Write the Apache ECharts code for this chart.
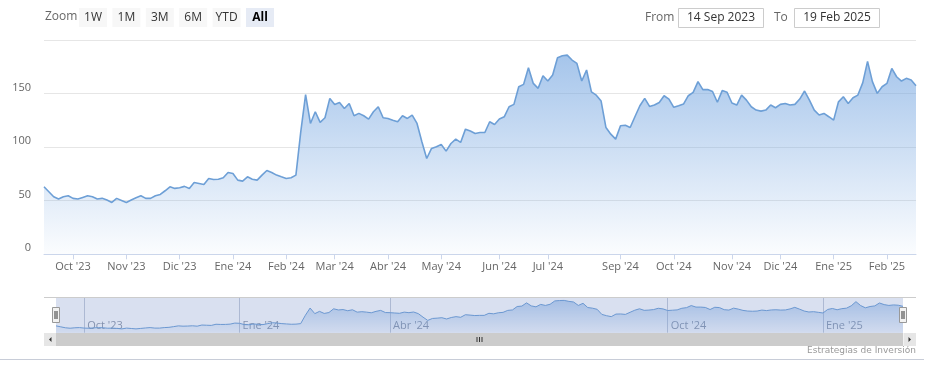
<!DOCTYPE html>
<html>
<head>
<meta charset="utf-8">
<script src="https://cdn.jsdelivr.net/npm/echarts@6/dist/echarts.min.js"></script>
<style>
  html, body { margin: 0; padding: 0; background: #fff; }
  #chart { width: 930px; height: 380px; }
</style>
</head>
<body>
<div id="chart"></div>
<script>
// Month tick labels (first block is the partial Sep '23, no label)
const monthLabels = ["", "Oct '23", "Nov '23", "Dic '23", "Ene '24", "Feb '24", "Mar '24", "Abr '24", "May '24", "Jun '24", "Jul '24", "Sep '24", "Oct '24", "Nov '24", "Dic '24", "Ene '25", "Feb '25"];
const navLabels = ["Oct '23", "Ene '24", "Abr '24", "Oct '24", "Ene '25"];
const yTicks = [0, 50, 100, 150, 200];

// Price samples (about every second trading day), per month
const sep23 = [63.0, 58.4, 53.7, 51.6, 53.7, 54.6];
const oct23 = [52.2, 51.6, 53.1, 54.6, 53.7, 51.6, 52.2, 50.6, 48.4, 52.2, 50.3];
const nov23 = [48.4, 50.6, 52.8, 54.6, 52.2, 52.2, 54.6, 55.9, 59.3, 63.0, 61.5];
const dic23 = [62.1, 63.4, 61.5, 67.0, 66.1, 65.2, 70.8, 69.8, 70.0, 71.4, 76.4];
const ene24 = [75.4, 69.2, 68.3, 72.3, 70.1, 69.2, 73.9, 78.2, 76.4, 73.9, 72.3];
const feb24 = [70.8, 71.4, 73.9, 114.3, 149.1, 122.1, 133.0, 123.1, 127.4, 145.5];
const mar24 = [139.9, 141.7, 136.1, 140.8, 129.3, 131.5, 129.3, 126.2, 133.0, 137.7, 127.4];
const abr24 = [126.8, 125.2, 123.7, 129.3, 126.8, 129.9, 122.1, 105.0, 89.4, 98.8, 100.3];
const may24 = [102.5, 96.3, 103.4, 107.5, 104.4, 116.8, 115.0, 112.8, 113.7, 113.7, 123.7, 121.2];
const jun24 = [126.2, 128.3, 137.7, 139.9, 156.4, 158.6, 174.1, 159.5, 154.9, 166.7];
const jul24 = [161.7, 167.3, 183.5, 185.3, 185.9, 181.3, 178.2, 161.7, 172.0, 151.6, 148.5, 143.0, 118.3, 112.1, 107.5];
const sep24 = [119.9, 120.5, 118.3, 128.6, 138.6, 145.5, 138.0, 139.3, 141.7, 148.0, 144.9];
const oct24 = [137.2, 138.6, 140.2, 148.0, 151.1, 161.1, 153.7, 153.7, 151.9, 141.9, 152.8, 151.2];
const nov24 = [141.2, 139.3, 148.6, 143.9, 137.7, 134.6, 133.6, 134.6, 139.3, 136.8];
const dic24 = [139.9, 140.8, 139.3, 139.9, 144.9, 152.4, 143.9, 134.6, 130.0, 131.5, 128.4];
const ene25 = [125.2, 142.3, 147.0, 140.8, 146.1, 148.6, 160.0, 180.0, 161.1, 150.2, 156.4];
const feb25 = [159.5, 173.5, 165.7, 161.7, 164.2, 162.7, 157.4];

const blocks = [sep23, oct23, nov23, dic23, ene24, feb24, mar24, abr24, may24, jun24, jul24, sep24, oct24, nov24, dic24, ene25, feb25];

const categories = [];
const values = [];
const tickLabel = {};
blocks.forEach((b, j) => {
  b.forEach((v, k) => {
    const key = j + '-' + k;
    categories.push(key);
    values.push(v);
    if (k === 0 && monthLabels[j]) tickLabel[key] = monthLabels[j];
  });
});

const FONT = '"Open Sans", "DejaVu Sans", sans-serif';
const isMain = (i, v) => !!tickLabel[v];
const isNav = (i, v) => navLabels.indexOf(tickLabel[v]) >= 0;

const chart = echarts.init(document.getElementById('chart'), null, { renderer: 'canvas' });

// Range selector buttons
const btns = ['1W', '1M', '3M', '6M', 'YTD', 'All'];
const graphics = [];
graphics.push({ type: 'text', x: 45, y: 17, style: { text: 'Zoom', fill: '#666', font: '12px ' + FONT, textVerticalAlign: 'middle' } });
btns.forEach((t, k) => {
  const x = 79 + k * 33.4;
  const sel = t === 'All';
  graphics.push({ type: 'rect', shape: { x: x, y: 8, width: 28, height: 19 }, style: { fill: sel ? '#e6ebf5' : '#f7f7f7' } });
  graphics.push({ type: 'text', x: x + 14, y: 17.5, style: { text: t, fill: sel ? '#000' : '#333', font: (sel ? 'bold ' : '') + '12px ' + FONT, textAlign: 'center', textVerticalAlign: 'middle' } });
});
graphics.push({ type: 'text', x: 645, y: 17.5, style: { text: 'From', fill: '#666', font: '12px ' + FONT, textVerticalAlign: 'middle' } });
graphics.push({ type: 'rect', shape: { x: 678.5, y: 8.5, width: 85, height: 19 }, style: { fill: '#fff', stroke: '#cccccc', lineWidth: 1 } });
graphics.push({ type: 'text', x: 721, y: 17.5, style: { text: '14 Sep 2023', fill: '#333', font: '12px ' + FONT, textAlign: 'center', textVerticalAlign: 'middle' } });
graphics.push({ type: 'text', x: 774, y: 17.5, style: { text: 'To', fill: '#666', font: '12px ' + FONT, textVerticalAlign: 'middle' } });
graphics.push({ type: 'rect', shape: { x: 794.5, y: 8.5, width: 85, height: 19 }, style: { fill: '#fff', stroke: '#cccccc', lineWidth: 1 } });
graphics.push({ type: 'text', x: 837, y: 17.5, style: { text: '19 Feb 2025', fill: '#333', font: '12px ' + FONT, textAlign: 'center', textVerticalAlign: 'middle' } });

// Navigator decorations
graphics.push({ type: 'rect', z: 10, shape: { x: 56, y: 297.5, width: 847, height: 35.5 }, style: { fill: 'rgba(102,133,194,0.25)' } });
graphics.push({ type: 'line', z: 11, shape: { x1: 44, y1: 297.5, x2: 916, y2: 297.5 }, style: { stroke: '#cccccc', lineWidth: 1 } });
[56, 903].forEach(hx => {
  graphics.push({ type: 'rect', z: 12, shape: { x: hx - 3.5, y: 307.5, width: 7, height: 15 }, style: { fill: '#f2f2f2', stroke: '#999999', lineWidth: 1 } });
  graphics.push({ type: 'line', z: 13, shape: { x1: hx - 1, y1: 311, x2: hx - 1, y2: 319 }, style: { stroke: '#333', lineWidth: 1 } });
  graphics.push({ type: 'line', z: 13, shape: { x1: hx + 1, y1: 311, x2: hx + 1, y2: 319 }, style: { stroke: '#333', lineWidth: 1 } });
});
// Scrollbar
graphics.push({ type: 'rect', z: 10, shape: { x: 44, y: 333, width: 872, height: 13 }, style: { fill: '#f2f2f2' } });
graphics.push({ type: 'rect', z: 11, shape: { x: 56, y: 333, width: 847, height: 13 }, style: { fill: '#cccccc' } });
graphics.push({ type: 'rect', z: 11, shape: { x: 44, y: 333, width: 12, height: 13 }, style: { fill: '#e6e6e6' } });
graphics.push({ type: 'rect', z: 11, shape: { x: 904, y: 333, width: 12, height: 13 }, style: { fill: '#e6e6e6' } });
graphics.push({ type: 'polygon', z: 12, shape: { points: [[51.5, 337], [51.5, 342], [49, 339.5]] }, style: { fill: '#333' } });
graphics.push({ type: 'polygon', z: 12, shape: { points: [[908.5, 337], [908.5, 342], [911, 339.5]] }, style: { fill: '#333' } });
[477, 479.5, 482].forEach(gx => {
  graphics.push({ type: 'line', z: 12, shape: { x1: gx, y1: 337, x2: gx, y2: 342 }, style: { stroke: '#333', lineWidth: 1 } });
});
// Bottom border & credit
graphics.push({ type: 'line', shape: { x1: 0, y1: 359.5, x2: 924, y2: 359.5 }, style: { stroke: '#c8cdd8', lineWidth: 1 } });
graphics.push({ type: 'text', x: 916, y: 351, style: { text: 'Estrategias de Inversión', fill: '#999', font: '9px "DejaVu Sans", sans-serif', textAlign: 'right', textVerticalAlign: 'middle' } });

const option = {
  animation: false,
  backgroundColor: '#fff',
  grid: [
    { left: 44, right: 14, top: 40, height: 214.3 },
    { left: 56, right: 27, top: 297.5, height: 35.2 }
  ],
  xAxis: [
    {
      type: 'category', gridIndex: 0, data: categories, boundaryGap: false,
      axisLine: { lineStyle: { color: '#ccd6eb' } },
      axisTick: { show: true, length: 5, interval: isMain, lineStyle: { color: '#ccd6eb' } },
      axisLabel: { interval: isMain, formatter: v => tickLabel[v] || '', color: '#666', fontSize: 11, fontFamily: FONT, margin: 7 },
      splitLine: { show: false }
    },
    {
      type: 'category', gridIndex: 1, data: categories, boundaryGap: false,
      axisLine: { show: false }, axisTick: { show: false },
      axisLabel: { inside: true, interval: isNav, formatter: v => tickLabel[v] || '', color: '#8d97a8', fontSize: 11, fontFamily: FONT, align: 'left', padding: [0, 0, 0, 3], margin: 1 },
      splitLine: { show: true, interval: isNav, lineStyle: { color: '#c5cbd9', width: 1 } }
    }
  ],
  yAxis: [
    {
      type: 'value', gridIndex: 0, min: yTicks[0], max: yTicks[yTicks.length - 1], interval: yTicks[1] - yTicks[0],
      axisLine: { show: false }, axisTick: { show: false },
      axisLabel: { showMaxLabel: false, color: '#666', fontSize: 11, fontFamily: FONT, margin: 13, verticalAlign: 'bottom', lineHeight: 12 },
      splitLine: { lineStyle: { color: '#e6e6e6' } }
    },
    { type: 'value', gridIndex: 1, min: 30, max: 200, show: false, splitLine: { show: false } }
  ],
  series: [
    {
      type: 'line', xAxisIndex: 0, yAxisIndex: 0, data: values, symbol: 'none',
      lineStyle: { color: '#6d9fd6', width: 1.6 },
      areaStyle: {
        color: new echarts.graphic.LinearGradient(0, 0, 0, 1, [
          { offset: 0, color: 'rgba(116,165,224,0.92)' },
          { offset: 1, color: 'rgba(116,165,224,0.04)' }
        ])
      }
    },
    {
      type: 'line', xAxisIndex: 1, yAxisIndex: 1, data: values, symbol: 'none',
      lineStyle: { color: '#6d9fd6', width: 1 },
      areaStyle: {
        color: new echarts.graphic.LinearGradient(0, 0, 0, 1, [
          { offset: 0, color: 'rgba(116,165,224,0.7)' },
          { offset: 1, color: 'rgba(116,165,224,0.1)' }
        ])
      }
    }
  ],
  graphic: graphics
};
chart.setOption(option);
</script>
</body>
</html>
